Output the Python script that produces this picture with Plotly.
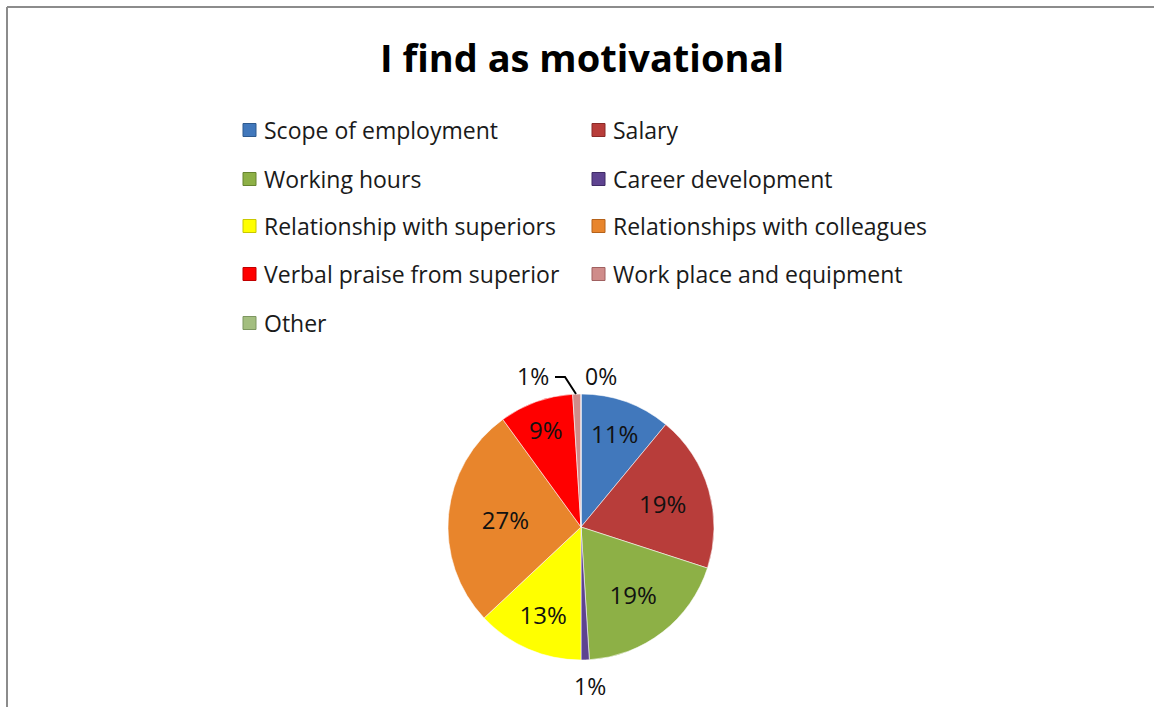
import plotly.graph_objects as go

# Survey answers: share of respondents per motivating factor
labels = [
    "Scope of employment", "Salary", "Working hours", "Career development",
    "Relationship with superiors", "Relationships with colleagues",
    "Verbal praise from superior", "Work place and equipment", "Other",
]
values = [11, 19, 19, 1, 13, 27, 9, 1, 0]
colors = ["#4178BC", "#B83D3A", "#8DB046", "#5E4390", "#FFFF00",
          "#E8852C", "#FF0000", "#CF8C8A", "#A3BE7F"]
edge_colors = ["#2E5A8F", "#8A2A28", "#66842F", "#3F2B66", "#C8C800",
               "#B5621A", "#C00000", "#A06060", "#7D9660"]
title_text = "I find as motivational"

W, H = 1154, 707
FONT = "'Open Sans', Lato, sans-serif"
total = sum(values)


def pct(v):
    return f"{round(100 * v / total)}%"


# Large slices carry their label inside; small ones are labelled separately
positions = ["none" if v < 5 else "inside" for v in values]

cx_pie, cy_pie, r_pie = 581, 527, 133

fig = go.Figure()
fig.add_trace(go.Pie(
    labels=labels,
    values=values,
    sort=False,
    direction="clockwise",
    rotation=0,
    marker=dict(colors=colors, line=dict(color="rgba(255,255,255,0.55)", width=1)),
    texttemplate="%{percent:.0%}",
    textposition=positions,
    textfont=dict(family=FONT, size=24, color="#111111"),
    insidetextorientation="horizontal",
    showlegend=False,
    hoverinfo="label+percent",
    domain=dict(x=[(cx_pie - r_pie) / W, (cx_pie + r_pie) / W],
                y=[(H - cy_pie - r_pie) / H, (H - cy_pie + r_pie) / H]),
))


def px(x):
    return x / W


def py(y):
    return 1 - y / H


# Two-column legend built from the labels and colours
col_x = [243, 592]
row_y = [130, 179, 226, 274, 323]
shapes = []
annotations = []
for i, (lab, col, edge) in enumerate(zip(labels, colors, edge_colors)):
    lx = col_x[i % 2]
    ly = row_y[i // 2]
    shapes.append(dict(
        type="rect", xref="paper", yref="paper",
        x0=px(lx), x1=px(lx + 13), y0=py(ly + 6.5), y1=py(ly - 6.5),
        fillcolor=col, line=dict(color=edge, width=1),
    ))
    annotations.append(dict(
        x=px(lx + 19), y=py(ly), xref="paper", yref="paper",
        text=lab, showarrow=False, xanchor="left", yanchor="middle",
        font=dict(family=FONT, size=23, color="#1a1a1a"),
    ))

# Labels of the thin slices, placed outside the pie
label_font = dict(family=FONT, size=23, color="#111111")
outside = [
    (7, 551, 376, "right"),   # Work place and equipment
    (8, 583, 376, "left"),    # Other
    (3, 590, 686, "center"),  # Career development
]
for idx, x, y, anchor in outside:
    annotations.append(dict(
        x=px(x), y=py(y), xref="paper", yref="paper", text=pct(values[idx]),
        showarrow=False, xanchor=anchor, yanchor="middle", font=label_font,
    ))

# Leader line from the "Work place" label to its slice
shapes.append(dict(
    type="path", xref="paper", yref="paper",
    path=f"M {px(555)} {py(377)} L {px(565)} {py(377)} L {px(576)} {py(394)}",
    line=dict(color="#000000", width=2),
))

# Chart frame
shapes.append(dict(type="line", xref="paper", yref="paper",
                   x0=px(7), x1=1, y0=py(7), y1=py(7),
                   line=dict(color="#8c8c8c", width=2)))
shapes.append(dict(type="line", xref="paper", yref="paper",
                   x0=px(7), x1=px(7), y0=0, y1=py(7),
                   line=dict(color="#8c8c8c", width=2)))

fig.update_layout(
    width=W, height=H,
    margin=dict(l=0, r=0, t=0, b=0),
    paper_bgcolor="white",
    plot_bgcolor="white",
    title=dict(text=f"<b>{title_text}</b>", x=582 / W, xanchor="center",
               y=py(59), yanchor="middle",
               font=dict(family=FONT, size=38, color="#000000")),
    shapes=shapes,
    annotations=annotations,
)

fig.write_html("out.html")
